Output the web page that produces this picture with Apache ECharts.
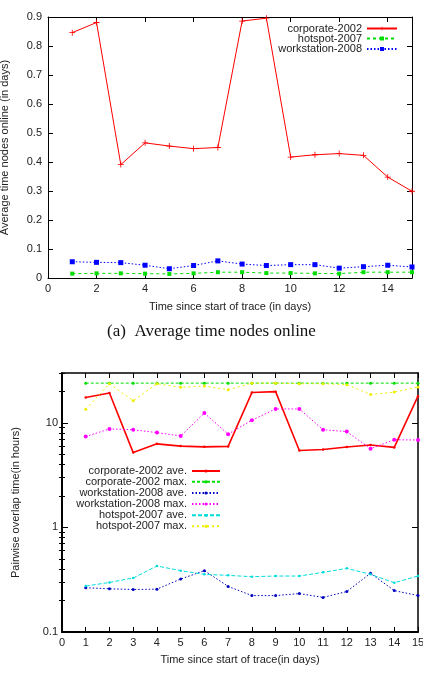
<!DOCTYPE html>
<html>
<head>
<meta charset="utf-8">
<script src="https://cdn.jsdelivr.net/npm/echarts@6/dist/echarts.min.js"></script>
<style>
  html, body { margin: 0; padding: 0; background: #fff; }
  #chart { width: 423px; height: 675px; }
</style>
</head>
<body>
<div id="chart"></div>
<script>
// days on the x axis (both charts)
var days = [1, 2, 3, 4, 5, 6, 7, 8, 9, 10, 11, 12, 13, 14, 15];

// (a) average time nodes online, in days
var corporate2002 = [0.846, 0.881, 0.391, 0.466, 0.455, 0.446, 0.450, 0.886, 0.896, 0.417, 0.425, 0.429, 0.423, 0.348, 0.299];
var hotspot2007 = [0.015, 0.016, 0.016, 0.015, 0.014, 0.016, 0.020, 0.020, 0.017, 0.017, 0.016, 0.015, 0.020, 0.020, 0.020];
var workstation2008 = [0.056, 0.054, 0.053, 0.044, 0.032, 0.043, 0.059, 0.048, 0.043, 0.046, 0.046, 0.034, 0.039, 0.044, 0.038];

// (b) pairwise overlap time, in hours (log scale)
var corpAve = [17.5, 19.3, 5.2, 6.3, 6.0, 5.9, 5.96, 19.5, 19.9, 5.45, 5.57, 5.88, 6.14, 5.83, 18.0];
var corpMax = [24, 24, 24, 24, 24, 24, 24, 24, 24, 24, 24, 24, 24, 24, 24];
var wsAve = [0.265, 0.259, 0.255, 0.257, 0.321, 0.386, 0.273, 0.223, 0.223, 0.233, 0.214, 0.244, 0.364, 0.249, 0.223];
var wsMax = [7.4, 8.75, 8.6, 8.07, 7.5, 12.4, 7.8, 10.6, 13.6, 13.6, 8.6, 8.25, 5.66, 6.9, 6.86];
var hsAve = [0.275, 0.298, 0.328, 0.428, 0.386, 0.356, 0.348, 0.338, 0.343, 0.343, 0.372, 0.406, 0.356, 0.296, 0.343];
var hsMax = [13.5, 23.7, 16.3, 23.7, 21.9, 22.5, 20.8, 24, 24, 23.7, 23.7, 23.2, 18.7, 19.7, 22.0];

// tick labels
var topXTicks = [0, 2, 4, 6, 8, 10, 12, 14];
var botXTicks = [0, 1, 2, 3, 4, 5, 6, 7, 8, 9, 10, 11, 12, 13, 14, 15];
var logMajor = [0.1, 1, 10];
var logMinor = [0.2, 0.3, 0.4, 0.5, 0.6, 0.7, 0.8, 0.9, 2, 3, 4, 5, 6, 7, 8, 9, 20, 30];

var FONT = 'Liberation Sans';
var TXT = '#222';

function pairs(vals) {
    return days.map(function (d, i) { return [d, vals[i]]; });
}

var plusPath = 'path://M0,4.3H10V5.7H0Z M4.3,0H5.7V10H4.3Z';

function mirrorX(grid, min, max, ticks, lw, tickLen) {
    return {
        type: 'value', gridIndex: grid, position: 'top', min: min, max: max,
        axisLine: { show: true, onZero: false, lineStyle: { color: '#000', width: lw } },
        axisTick: { show: true, inside: true, length: tickLen, customValues: ticks, lineStyle: { color: '#000' } },
        axisLabel: { show: false },
        splitLine: { show: false }
    };
}

var myChart = echarts.init(document.getElementById('chart'));

var option = {
    animation: false,
    backgroundColor: '#fff',
    textStyle: { fontFamily: FONT },
    grid: [
        { left: 48, top: 17, width: 364, height: 261, outerBoundsMode: 'none', containLabel: false },
        { left: 62, top: 373, width: 356, height: 259, outerBoundsMode: 'none', containLabel: false }
    ],
    xAxis: [
        {
            type: 'value', gridIndex: 0, position: 'bottom', min: 0, max: 15,
            name: 'Time since start of trace (in days)', nameLocation: 'middle', nameGap: 23,
            nameTextStyle: { color: TXT, fontSize: 11, fontFamily: FONT },
            axisLine: { show: true, onZero: false, lineStyle: { color: '#000', width: 1 } },
            axisTick: { show: true, inside: true, length: 5, customValues: topXTicks, lineStyle: { color: '#000' } },
            axisLabel: { color: TXT, fontSize: 11, margin: 5, customValues: topXTicks },
            splitLine: { show: false }
        },
        mirrorX(0, 0, 15, topXTicks, 1, 5),
        {
            type: 'value', gridIndex: 1, position: 'bottom', min: 0, max: 15,
            name: 'Time since start of trace(in days)', nameLocation: 'middle', nameGap: 22,
            nameTextStyle: { color: TXT, fontSize: 11, fontFamily: FONT },
            axisLine: { show: true, onZero: false, lineStyle: { color: '#000', width: 2 } },
            axisTick: { show: true, inside: true, length: 5, customValues: botXTicks, lineStyle: { color: '#000' } },
            axisLabel: { color: TXT, fontSize: 11, margin: 5, customValues: botXTicks },
            splitLine: { show: false }
        },
        mirrorX(1, 0, 15, botXTicks, 1.5, 5)
    ],
    yAxis: [
        {
            type: 'value', gridIndex: 0, position: 'left', min: 0, max: 0.9, interval: 0.1,
            name: 'Average time nodes online (in days)', nameLocation: 'middle', nameGap: 38,
            nameTextStyle: { color: TXT, fontSize: 11, fontFamily: FONT },
            axisLine: { show: true, onZero: false, lineStyle: { color: '#000', width: 1 } },
            axisTick: { show: true, inside: true, length: 5, lineStyle: { color: '#000' } },
            axisLabel: { color: TXT, fontSize: 11, margin: 6 },
            splitLine: { show: false }
        },
        {
            type: 'value', gridIndex: 0, position: 'right', min: 0, max: 0.9, interval: 0.1,
            axisLine: { show: true, onZero: false, lineStyle: { color: '#000', width: 1 } },
            axisTick: { show: true, inside: true, length: 5, lineStyle: { color: '#000' } },
            axisLabel: { show: false },
            splitLine: { show: false }
        },
        {
            type: 'log', logBase: 10, gridIndex: 1, position: 'left', min: 0.1, max: 30,
            name: 'Pairwise overlap time(in hours)', nameLocation: 'middle', nameGap: 41,
            nameTextStyle: { color: TXT, fontSize: 11, fontFamily: FONT },
            axisLine: { show: true, onZero: false, lineStyle: { color: '#000', width: 2 } },
            axisTick: { show: true, inside: true, length: 6, customValues: logMajor, lineStyle: { color: '#000' } },
            axisLabel: { color: TXT, fontSize: 11, margin: 4, customValues: logMajor },
            splitLine: { show: false }
        },
        {
            type: 'log', logBase: 10, gridIndex: 1, position: 'left', min: 0.1, max: 30,
            axisLine: { show: false },
            axisTick: { show: true, inside: true, length: 3, customValues: logMinor, lineStyle: { color: '#000' } },
            axisLabel: { show: false },
            splitLine: { show: false }
        },
        {
            type: 'log', logBase: 10, gridIndex: 1, position: 'right', min: 0.1, max: 30,
            axisLine: { show: true, onZero: false, lineStyle: { color: '#000', width: 1.5 } },
            axisTick: { show: true, inside: true, length: 6, customValues: logMajor, lineStyle: { color: '#000' } },
            axisLabel: { show: false },
            splitLine: { show: false }
        },
        {
            type: 'log', logBase: 10, gridIndex: 1, position: 'right', min: 0.1, max: 30,
            axisLine: { show: false },
            axisTick: { show: true, inside: true, length: 3, customValues: logMinor, lineStyle: { color: '#000' } },
            axisLabel: { show: false },
            splitLine: { show: false }
        }
    ],
    legend: [],
    graphic: [{
        type: 'text', left: 'center', top: 323,
        style: { text: '(a)  Average time nodes online', font: '17px "Liberation Serif"', fill: '#111' }
    }],
    series: []
};

// series rows: [name, data, color, lineType, width, symbol, symbolSize]
var topSeries = [
    ['corporate-2002', corporate2002, '#ff0000', 'solid', 1, plusPath, 6],
    ['hotspot-2007', hotspot2007, '#00dd00', [3, 3], 1, 'rect', 4],
    ['workstation-2008', workstation2008, '#0000ff', [1.5, 2], 1, 'rect', 5]
];
var botSeries = [
    ['corporate-2002 ave.', corpAve, '#ff0000', 'solid', 1.6, 'circle', 2.5],
    ['corporate-2002 max.', corpMax, '#00e000', [3, 2], 1, 'circle', 3],
    ['workstation-2008 ave.', wsAve, '#0000c0', [1.5, 2], 1, 'circle', 3],
    ['workstation-2008 max.', wsMax, '#ff00ff', [1.5, 2], 1, 'circle', 4],
    ['hotspot-2007 ave.', hsAve, '#00dddd', [4, 2], 1, 'circle', 2.5],
    ['hotspot-2007 max.', hsMax, '#eeee00', [2, 3], 1, 'circle', 3]
];

var topRows = [23, 33, 43.5];
topSeries.forEach(function (s, i) {
    option.series.push({
        name: s[0], type: 'line', xAxisIndex: 0, yAxisIndex: 0, data: pairs(s[1]),
        lineStyle: { color: s[2], type: s[3], width: s[4] },
        itemStyle: { color: s[2] }, symbol: s[5], symbolSize: s[6], showSymbol: true
    });
    option.legend.push({
        data: [s[0]], right: 25, top: topRows[i], padding: 0, align: 'right',
        itemWidth: 30, itemHeight: 5, itemGap: 0,
        textStyle: { color: TXT, fontSize: 11, fontFamily: FONT }
    });
});

var botRows = [465.5, 476.3, 487.5, 498.5, 509.8, 520.8];
botSeries.forEach(function (s, i) {
    option.series.push({
        name: s[0], type: 'line', xAxisIndex: 2, yAxisIndex: 2, data: pairs(s[1]),
        lineStyle: { color: s[2], type: s[3], width: s[4] },
        itemStyle: { color: s[2] }, symbol: s[5], symbolSize: s[6], showSymbol: true
    });
    option.legend.push({
        data: [s[0]], right: 202, top: botRows[i], padding: 0, align: 'right',
        itemWidth: 28, itemHeight: 4, itemGap: 0,
        textStyle: { color: TXT, fontSize: 11, fontFamily: FONT }
    });
});

myChart.setOption(option);
</script>
</body>
</html>
